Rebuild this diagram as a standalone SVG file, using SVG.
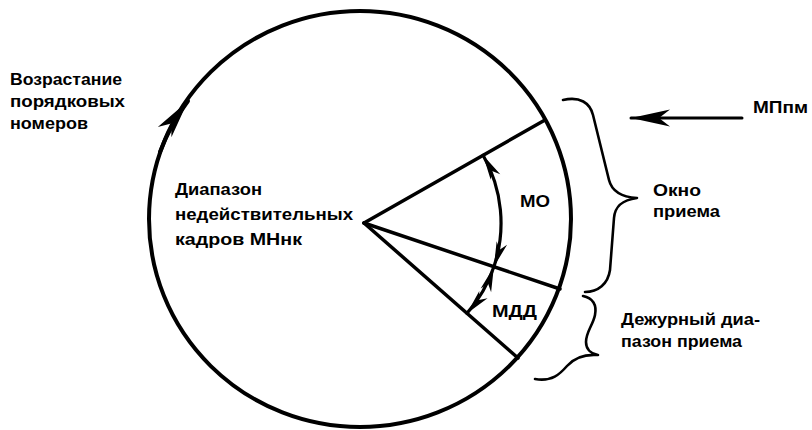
<svg xmlns="http://www.w3.org/2000/svg" width="812" height="430" viewBox="0 0 812 430">
<style>
  .t { font-family: "Liberation Sans", Arial, sans-serif; font-weight: bold; font-size: 17px; fill: #000; }
  .ln { fill: none; stroke: #000; stroke-linecap: round; stroke-linejoin: round; }
</style>
<defs>
  <marker id="ah" markerUnits="userSpaceOnUse" markerWidth="26" markerHeight="11" refX="25" refY="5.5" orient="auto-start-reverse" overflow="visible">
    <path d="M25,5.5 L0,0 L7,5.5 L0,11 Z" fill="#000"/>
  </marker>
  <marker id="ahBig" markerUnits="userSpaceOnUse" markerWidth="40" markerHeight="17" refX="39" refY="8.5" orient="auto" overflow="visible">
    <path d="M39,8.5 L0,0 L11,8.5 L0,17 Z" fill="#000"/>
  </marker>
</defs>
<rect width="812" height="430" fill="#fff"/>

<g id="circle">
  <ellipse cx="360" cy="219" rx="211" ry="208" class="ln" stroke-width="4"/>
</g>

<g id="connectors">
  <!-- wedge radii -->
  <path class="ln" stroke-width="3.5" d="M364,223 L545,120"/>
  <path class="ln" stroke-width="3.5" d="M364,223 L560,289"/>
  <path class="ln" stroke-width="3.5" d="M364,223 L518,358"/>
  <!-- arc arrows -->
  <path class="ln" stroke-width="3.2" d="M483.1,155.3 A137,137 0 0 1 493.9,266.7" marker-start="url(#ah)" marker-end="url(#ah)"/>
  <path class="ln" stroke-width="3.2" d="M493.9,266.7 A137,137 0 0 1 466.9,313.4" marker-start="url(#ah)" marker-end="url(#ah)"/>
  <!-- direction arrow on circle -->
  <path class="ln" stroke-width="4" d="M160,152 A211,208 0 0 1 188,101" marker-end="url(#ahBig)"/>
  <!-- MPpm arrow -->
  <path class="ln" stroke-width="3" d="M742,118 L631,118" marker-end="url(#ahBig)"/>
  <!-- braces -->
  <path id="brace-window" class="ln" stroke-width="2.6" d="M563,100 C580,96 590,103 593,115 L609,180 C612,192 622,197 637,198 C622,200 615,206 614,218 L610,270 C608,284 598,292 585,292"/>
  <path id="brace-duty" class="ln" stroke-width="2.6" d="M583,296 C593,298 597,305 595,315 C593,325 586,332 586,342 C586,350 592,354 598,355 C585,354 575,357 567,366 C560,374 552,382 535,379"/>
</g>

<g id="label-growth">
  <text class="t" x="10" y="85" textLength="112" lengthAdjust="spacingAndGlyphs">Возрастание</text>
  <text class="t" x="10" y="107" textLength="115" lengthAdjust="spacingAndGlyphs">порядковых</text>
  <text class="t" x="10" y="129" textLength="78" lengthAdjust="spacingAndGlyphs">номеров</text>
</g>
<g id="label-invalid">
  <text class="t" x="175" y="195" textLength="87" lengthAdjust="spacingAndGlyphs">Диапазон</text>
  <text class="t" x="175" y="220" textLength="178" lengthAdjust="spacingAndGlyphs">недействительных</text>
  <text class="t" x="175" y="245" textLength="127" lengthAdjust="spacingAndGlyphs">кадров МНнк</text>
</g>
<g id="label-mo">
  <text class="t" x="520" y="207" textLength="30" lengthAdjust="spacingAndGlyphs">МО</text>
</g>
<g id="label-mdd">
  <text class="t" x="492" y="317" textLength="45" lengthAdjust="spacingAndGlyphs">МДД</text>
</g>
<g id="label-mppm">
  <text class="t" x="753" y="113" textLength="55" lengthAdjust="spacingAndGlyphs">МПпм</text>
</g>
<g id="label-window">
  <text class="t" x="653" y="196" textLength="48" lengthAdjust="spacingAndGlyphs">Окно</text>
  <text class="t" x="653" y="217" textLength="67" lengthAdjust="spacingAndGlyphs">приема</text>
</g>
<g id="label-duty">
  <text class="t" x="621" y="325" textLength="139" lengthAdjust="spacingAndGlyphs">Дежурный диа-</text>
  <text class="t" x="621" y="347" textLength="121" lengthAdjust="spacingAndGlyphs">пазон приема</text>
</g>
</svg>
